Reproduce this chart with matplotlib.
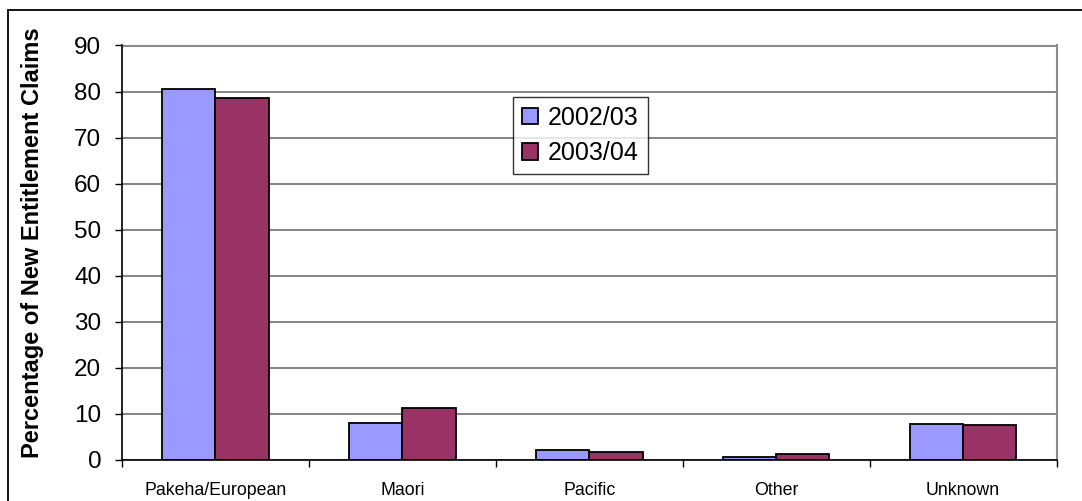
import matplotlib
matplotlib.use("Agg")
import matplotlib.pyplot as plt
import numpy as np
from matplotlib.patches import Rectangle

categories = ["Pakeha/European", "Maori", "Pacific", "Other", "Unknown"]
series_names = ["2002/03", "2003/04"]
values_2002 = [80.6, 8.1, 2.2, 0.6, 7.8]
values_2003 = [78.5, 11.2, 1.7, 1.3, 7.5]
yticks = [0, 10, 20, 30, 40, 50, 60, 70, 80, 90]

plt.rcParams["font.family"] = ["Liberation Sans", "DejaVu Sans"]

W, H = 1082, 501
fig = plt.figure(figsize=(W / 100, H / 100), dpi=100)
ax = fig.add_axes([122 / W, 1 - 460 / H, (1056.5 - 122) / W, (460 - 45.5) / H])

x = np.arange(len(categories))
bw = 0.285
ax.bar(x - bw / 2, values_2002, width=bw, color="#9999FF", edgecolor="black",
       linewidth=1.3, label=series_names[0], zorder=3)
ax.bar(x + bw / 2, values_2003, width=bw, color="#993366", edgecolor="black",
       linewidth=1.3, label=series_names[1], zorder=3)

ax.set_xlim(-0.5, len(categories) - 0.5)
ax.set_ylim(0, 90)
ax.set_yticks(yticks)
ax.set_yticklabels([str(v) for v in yticks], fontsize=17.5)
ax.set_xticks(x)
ax.set_xticklabels(categories, fontsize=12.8)
ax.set_xticks(np.arange(-0.5, len(categories), 1.0), minor=True)
ax.tick_params(axis="x", which="major", length=0, pad=16)
ax.tick_params(axis="x", which="minor", length=5, width=1, direction="out")
ax.tick_params(axis="y", length=5, width=1, direction="out", pad=10)

ax.yaxis.grid(True, color="#707070", linewidth=1.2, zorder=0)
ax.set_axisbelow(True)

for side in ("top", "right"):
    ax.spines[side].set_color("#8a8a8a")
    ax.spines[side].set_linewidth(1.5)
for side in ("left", "bottom"):
    ax.spines[side].set_color("black")
    ax.spines[side].set_linewidth(1.2)
    ax.spines[side].set_zorder(4)

ax.set_ylabel("Percentage of New Entitlement Claims", fontsize=17,
              fontweight="bold")
ax.yaxis.set_label_coords((44 - 122) / (1056.5 - 122), 0.525)

leg = ax.legend(loc="upper left", bbox_to_anchor=((513 - 122) / (1056.5 - 122), (460 - 97) / (460 - 45.5)),
                fontsize=18, frameon=True, fancybox=False, handlelength=0.65,
                handleheight=0.65, handletextpad=0.4, borderpad=0.35,
                labelspacing=0.45, borderaxespad=0)
leg.get_frame().set_edgecolor("black")
leg.get_frame().set_linewidth(1.0)

# outer chart frame
fig.add_artist(Rectangle((8 / W, -0.1), 1.2, 1.1 - 9.5 / H, transform=fig.transFigure,
                         fill=False, edgecolor="black", linewidth=1.3))

fig.savefig("out.png", dpi=100)
